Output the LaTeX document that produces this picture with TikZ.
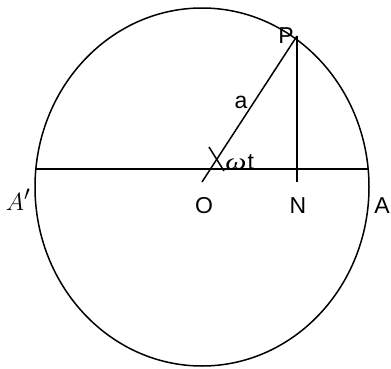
\documentclass[tikz,border=0pt]{standalone}
\usepackage{fontspec}
\setmainfont{Liberation Sans}
\newfontfamily\greekserif{Liberation Serif}
\usetikzlibrary{positioning}

\begin{document}
\begin{tikzpicture}[
    x=1pt, y=1pt,
    % === STYLES ===
    curve/.style={
        line width=1.5pt,
        draw=black
    },
    ptlabel/.style={
        font=\fontsize{23}{28}\selectfont,
        inner sep=0pt,
        anchor=base
    },
    mathlabel/.style={
        font=\fontsize{#1}{34}\selectfont,
        inner sep=0pt,
        anchor=base
    },
    mathlabel/.default=28
]
\useasboundingbox (0,0) rectangle (391,368);

% === POINTS ===
\coordinate (C) at (202,181);
\coordinate (Aleft) at (35.8,199);
\coordinate (Aright) at (368.2,199);
\coordinate (O) at (202,186);
\coordinate (P) at (297,332);
\coordinate (N) at (297,186);
\coordinate (tickA) at (209,221);
\coordinate (tickB) at (224,197);

% === CIRCLE ===
\draw[curve] (C) ellipse [x radius=167, y radius=179];

% === LINES ===
\draw[curve] (Aleft) -- (Aright);
\draw[curve] (O) -- (P);
\draw[curve] (P) -- (N);

% angle mark
\draw[curve] (tickA) -- (tickB);

% === LABELS ===
\node[ptlabel] (labP) at (286,325) {P};
\node[ptlabel] (laba) at (241,260) {a};
\node[ptlabel, xscale=1.3] (labw) at (236,199) {\greekserif\itshape ω};
\node[ptlabel, right=0.5 of labw.base east, anchor=base west] (labt) {t};
\node[ptlabel] (labO) at (204,155) {O};
\node[ptlabel] (labN) at (298,155) {N};
\node[ptlabel] (labA) at (382,155) {A};
\node[mathlabel=30] (labAp) at (18,158) {$A'$};

\end{tikzpicture}
\end{document}
